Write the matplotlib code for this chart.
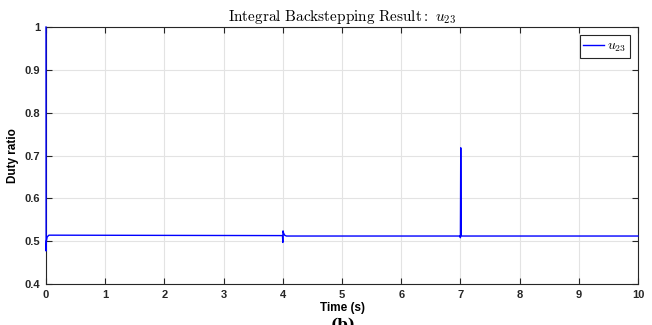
import matplotlib
matplotlib.use("Agg")
import matplotlib.pyplot as plt

plt.rcParams['mathtext.fontset'] = 'cm'
plt.rcParams['font.family'] = ['Liberation Sans', 'DejaVu Sans']

# Data
time_s = [0.0, 0.002, 0.006, 0.02, 0.05, 0.1, 2.0, 3.995, 4.0, 4.004, 4.01, 4.03, 4.06, 5.5,
          6.995, 7.0, 7.006, 7.014, 7.03, 8.5, 10.0]
u23 = [1.0, 0.477, 0.50, 0.510, 0.514, 0.514, 0.5135, 0.513, 0.497, 0.524, 0.520, 0.514, 0.512, 0.512,
       0.512, 0.508, 0.718, 0.512, 0.512, 0.512, 0.512]

x_ticks = [0, 1, 2, 3, 4, 5, 6, 7, 8, 9, 10]
y_ticks = [0.4, 0.5, 0.6, 0.7, 0.8, 0.9, 1.0]
y_tick_labels = ['0.4', '0.5', '0.6', '0.7', '0.8', '0.9', '1']

fig = plt.figure(figsize=(6.52, 3.25), dpi=100)
ax = fig.add_axes([46/652, 41/325, 592/652, 257/325])

ax.plot(time_s, u23, color='#0000ff', lw=1.0, label=r'$u_{23}$', zorder=3, clip_on=False)
ax.set_xlim(0, 10)
ax.set_ylim(0.4, 1.0)
ax.set_xticks(x_ticks)
ax.set_yticks(y_ticks)
ax.set_yticklabels(y_tick_labels)
ax.grid(True, color='#e3e3e3', lw=0.8)
ax.set_axisbelow(True)
ax.tick_params(direction='in', length=4, width=0.8, top=True, right=True,
               labelsize=8, colors='#262626', pad=4)
for lab in ax.get_xticklabels() + ax.get_yticklabels():
    lab.set_fontweight('bold')
for sp in ax.spines.values():
    sp.set_color('#262626')
    sp.set_linewidth(0.8)

ax.set_xlabel('Time (s)', fontsize=8.5, fontweight='bold', labelpad=2)
ax.set_ylabel('Duty ratio', fontsize=8.5, fontweight='bold', labelpad=4)
ax.set_title(r'$\mathrm{Integral\ Backstepping\ Result:}\ u_{23}$', fontsize=11, pad=4)

leg = ax.legend(loc='upper right', fontsize=10, fancybox=False, framealpha=1,
                edgecolor='#262626', handlelength=1.5, borderaxespad=0.6,
                borderpad=0.25, handletextpad=0.2)
leg.get_frame().set_linewidth(0.8)

fig.text(343/652, 7/325, '(b)', fontsize=11, ha='center', va='top',
         fontfamily='serif', fontweight='bold')

fig.savefig('out.png', dpi=100)
